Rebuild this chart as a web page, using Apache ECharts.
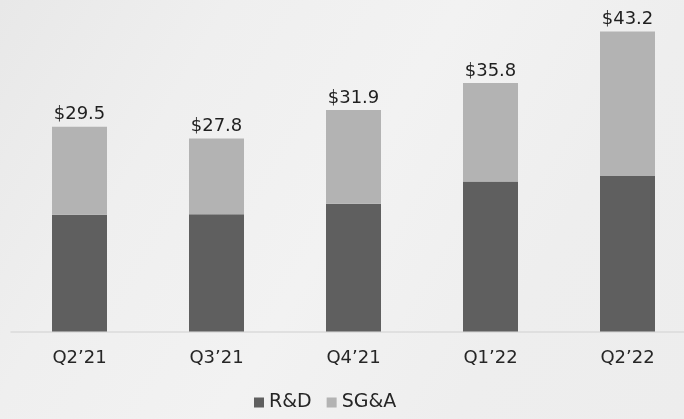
<!DOCTYPE html>
<html>
<head>
<meta charset="utf-8">
<script src="https://cdn.jsdelivr.net/npm/echarts@6/dist/echarts.min.js"></script>
<style>
  html, body { margin: 0; padding: 0; overflow: hidden; }
  body {
    width: 684px;
    height: 419px;
    background: linear-gradient(120deg, #e8e8e8 0%, #efefef 25%, #f2f2f2 50%, #eeeeee 75%, #ededed 100%);
  }
  #chart { width: 700px; height: 419px; }
</style>
</head>
<body>
<div id="chart"></div>
<script>
// quarterly opex, $M
const categories = ['Q2’21', 'Q3’21', 'Q4’21', 'Q1’22', 'Q2’22']
const rdValues = [16.8, 16.9, 18.4, 21.6, 22.4]
const sgaValues = [12.7, 10.9, 13.5, 14.2, 20.8]
const totals = [29.5, 27.8, 31.9, 35.8, 43.2]

const font = 'DejaVu Sans'
const chart = echarts.init(document.getElementById('chart'))

const option = {
  backgroundColor: 'transparent',
  textStyle: { fontFamily: font },
  grid: { left: 11, width: 685, top: 19, height: 312.5, containLabel: false },
  legend: {
    data: ['R&D', 'SG&A'],
    top: 388,
    left: 249,
    icon: 'rect',
    itemWidth: 10,
    itemHeight: 10,
    itemGap: 15,
    textStyle: { fontFamily: font, fontSize: 19, color: '#262626' }
  },
  xAxis: {
    type: 'category',
    data: categories,
    axisTick: { show: false },
    axisLine: { lineStyle: { color: '#dadada', width: 1.5 } },
    axisLabel: { fontFamily: font, fontSize: 18, color: '#262626', margin: 18 }
  },
  yAxis: {
    type: 'value',
    min: 0,
    max: 45,
    show: false,
    splitLine: { show: false }
  },
  series: [
    {
      name: 'R&D',
      type: 'bar',
      stack: 'opex',
      barWidth: 55,
      itemStyle: { color: '#5f5f5f' },
      data: rdValues
    },
    {
      name: 'SG&A',
      type: 'bar',
      stack: 'opex',
      barWidth: 55,
      itemStyle: { color: '#b3b3b3' },
      label: {
        show: true,
        position: 'top',
        distance: 3,
        fontFamily: font,
        fontSize: 18,
        color: '#1f1f1f',
        formatter: (p) => '$' + totals[p.dataIndex].toFixed(1)
      },
      data: sgaValues
    }
  ]
}
chart.setOption(option)
</script>
</body>
</html>
